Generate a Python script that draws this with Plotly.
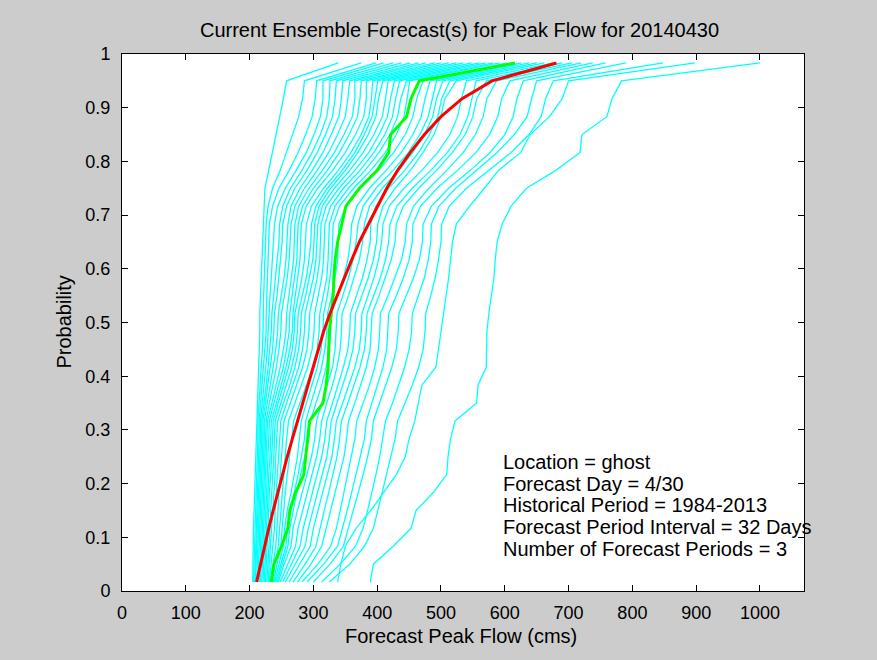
import plotly.graph_objects as go

# Probability levels (plotting positions) shared by all ensemble traces
probs = [0.0167, 0.05, 0.0833, 0.1167, 0.15, 0.1833, 0.2167, 0.25, 0.2833, 0.3167,
         0.35, 0.3833, 0.4167, 0.45, 0.4833, 0.5167, 0.55, 0.5833, 0.6167, 0.65,
         0.6833, 0.7167, 0.75, 0.7833, 0.8167, 0.85, 0.8833, 0.9167, 0.95, 0.9833]

# Ensemble member forecast peak flows (cms), one list per cyan trace
cyan_flows = [
    [205,205,206,206,207,208,209,210,211,211,212,213,214,215,216,216,217,218,219,220,221,222,224,230,236,242,248,253,258,339],
    [206,207,208,208,209,210,211,212,213,213,215,216,218,220,221,221,222,223,224,225,226,229,236,248,258,268,277,283,286,375],
    [208,209,210,211,212,213,213,214,215,215,217,220,222,224,226,226,227,228,229,230,231,236,246,262,276,288,298,303,305,398],
    [209,210,212,213,214,215,216,216,217,217,220,223,226,228,229,230,232,234,236,238,239,244,256,273,289,301,311,315,315,410],
    [211,212,214,215,216,217,218,218,219,219,223,226,229,232,234,235,238,241,244,246,247,252,264,282,298,311,321,325,326,425],
    [213,214,216,217,218,219,220,220,221,221,225,229,233,236,238,239,243,246,249,251,252,258,271,290,306,319,330,334,336,438],
    [215,216,218,219,220,221,222,222,223,223,228,233,237,241,244,245,250,254,257,259,260,265,279,298,315,328,340,344,346,452],
    [217,218,220,221,222,223,224,225,226,226,231,237,242,246,249,250,255,259,262,264,265,271,286,306,324,338,350,354,357,465],
    [219,220,222,223,224,225,226,227,228,228,235,242,248,253,257,258,262,266,269,270,271,277,293,314,333,348,361,365,365,476],
    [221,222,224,225,226,227,228,229,230,231,238,246,253,258,262,263,267,271,274,275,276,283,300,322,341,356,369,373,375,490],
    [223,224,226,227,228,229,230,232,233,234,242,250,257,263,267,268,272,276,279,280,281,289,307,330,350,366,379,383,383,500],
    [225,226,228,229,230,231,233,235,236,237,245,254,261,267,270,271,277,282,286,288,289,297,316,339,359,375,387,391,393,512],
    [227,229,231,232,233,235,237,238,239,240,249,258,266,272,275,276,283,289,293,296,297,304,322,345,365,380,392,396,401,524],
    [229,231,233,235,236,238,240,241,242,244,253,263,271,277,280,281,288,294,299,301,302,309,327,350,370,386,398,402,409,535],
    [231,234,237,239,240,242,244,246,247,249,258,268,277,283,286,287,294,300,304,306,307,314,333,357,378,395,408,413,417,548],
    [233,237,241,243,244,246,248,250,252,254,264,274,283,290,293,294,300,306,310,311,312,320,340,365,387,403,416,421,427,560],
    [235,240,245,247,249,251,253,256,258,261,271,282,291,298,301,302,308,313,316,317,318,327,347,373,395,412,424,429,435,570],
    [237,243,249,251,253,256,259,263,266,269,279,290,299,306,309,310,316,321,323,324,325,334,355,381,403,420,432,437,446,582],
    [239,246,253,255,259,265,270,275,278,281,289,298,306,312,315,316,322,326,329,330,331,341,363,390,413,430,442,447,451,592],
    [241,249,257,259,264,270,276,281,286,288,296,305,313,318,321,322,329,334,338,339,340,351,374,402,426,444,456,462,472,604],
    [243,251,260,263,268,274,280,287,293,295,304,313,320,325,327,328,338,347,354,358,360,368,388,414,438,456,469,475,483,615],
    [245,254,265,268,275,283,290,297,302,305,313,322,330,334,336,337,346,355,362,367,370,378,398,425,449,467,480,486,493,626],
    [248,260,272,276,283,291,298,305,310,313,321,330,337,342,344,345,355,364,372,377,380,388,408,434,456,474,487,493,503,638],
    [252,266,279,284,291,299,306,313,318,321,330,339,347,354,357,358,368,377,384,389,390,398,418,443,465,482,495,501,514,650],
    [256,272,287,292,299,307,314,321,325,328,337,346,355,362,365,366,376,386,394,399,401,409,428,452,472,489,500,506,524,662],
    [262,279,295,300,307,315,322,329,333,336,346,356,365,372,375,376,386,395,402,407,409,419,442,470,495,514,526,532,540,676],
    [268,287,304,310,317,324,331,337,341,344,354,364,373,380,383,384,395,405,413,418,420,431,455,484,510,530,542,548,555,690],
    [275,296,313,320,327,335,342,348,352,355,365,374,383,389,391,392,403,413,422,428,430,441,465,493,518,538,550,556,571,705],
    [282,307,327,336,342,348,354,360,365,368,378,388,396,402,404,405,417,428,438,444,446,457,481,509,535,554,566,572,587,720],
    [290,316,338,346,353,360,367,374,380,383,392,401,409,415,417,418,430,441,450,455,456,468,494,526,555,576,589,595,608,738],
    [300,326,347,355,363,371,378,385,391,394,404,414,423,430,433,434,446,457,466,471,472,485,512,546,577,600,613,619,629,758],
    [313,342,366,378,385,392,398,404,409,413,424,434,443,450,454,455,465,474,480,484,485,497,523,555,588,615,635,642,650,790],
    [325,357,380,394,401,408,415,422,428,432,444,455,465,472,475,476,484,491,496,500,501,513,540,575,610,638,657,664,676,848],
    [338,343,350,367,390,410,430,444,450,459,464,470,492,496,500,505,509,512,515,518,524,545,568,590,625,640,670,690,700,898],
    [389,394,425,453,461,488,509,511,515,522,556,558,571,571,572,575,579,583,585,588,596,610,634,680,718,721,760,768,783,1000],
]

# Highlighted traces
green_flows = [234,238,250,260,263,272,285,288,291,294,315,320,323,324,325,328,331,332,334,338,
               344,351,372,400,418,421,446,453,466,616]
red_flows = [211,217,223,230,237,244,251,259,267,275,283,291,299,307,316,326,337,348,360,372,
             386,400,415,432,452,474,500,533,580,681]

title_text = "Current Ensemble Forecast(s) for Peak Flow for 20140430"
x_label = "Forecast Peak Flow (cms)"
y_label = "Probability"
info_lines = ["Location = ghost", "Forecast Day = 4/30", "Historical Period = 1984-2013",
              "Forecast Period Interval = 32 Days", "Number of Forecast Periods = 3"]
x_ticks = [0, 100, 200, 300, 400, 500, 600, 700, 800, 900, 1000]
y_ticks = [0, 0.1, 0.2, 0.3, 0.4, 0.5, 0.6, 0.7, 0.8, 0.9, 1]
y_ticktext = ["0", "0.1", "0.2", "0.3", "0.4", "0.5", "0.6", "0.7", "0.8", "0.9", "1"]

FONT = "Liberation Sans, Arial, Helvetica, sans-serif"
TEXT_SIZE = 20
TICK_SIZE = 18

fig = go.Figure()
for flows in cyan_flows:
    fig.add_trace(go.Scatter(x=flows, y=probs, mode="lines",
                             line=dict(color="#00FFFF", width=1.3),
                             showlegend=False, hoverinfo="skip"))
fig.add_trace(go.Scatter(x=green_flows, y=probs, mode="lines",
                         line=dict(color="#00FF00", width=3), showlegend=False))
fig.add_trace(go.Scatter(x=red_flows, y=probs, mode="lines",
                         line=dict(color="#FF0000", width=3), showlegend=False))

axis_common = dict(showgrid=False, zeroline=False, showline=True, linecolor="black",
                   linewidth=1, mirror="ticks", ticks="inside", ticklen=6,
                   tickcolor="black", tickwidth=1,
                   tickfont=dict(family=FONT, size=TICK_SIZE, color="black"))

fig.update_xaxes(range=[0, 1069], tickvals=x_ticks,
                 ticktext=[str(v) for v in x_ticks], ticklabelstandoff=5, **axis_common)
fig.update_yaxes(range=[0, 1], tickvals=y_ticks, ticktext=y_ticktext,
                 ticklabelstandoff=7, **axis_common)

annotations = []
annotations.append(dict(text=x_label, xref="paper", yref="paper", x=0.497, y=-0.084,
                        xanchor="center", yanchor="middle", showarrow=False,
                        font=dict(family=FONT, size=TEXT_SIZE, color="black")))
annotations.append(dict(text=y_label, xref="paper", yref="paper", x=-0.0865, y=0.5,
                        xanchor="center", yanchor="middle", textangle=-90, showarrow=False,
                        font=dict(family=FONT, size=TEXT_SIZE, color="black")))
info_y = [0.241, 0.200, 0.160, 0.119, 0.079]
for txt, yy in zip(info_lines, info_y):
    annotations.append(dict(text=txt, xref="x", yref="y", x=594, y=yy,
                            xanchor="left", yanchor="middle", showarrow=False,
                            font=dict(family=FONT, size=TEXT_SIZE, color="black")))

fig.update_layout(
    width=877, height=660,
    margin=dict(l=122, r=73, t=54, b=69),
    paper_bgcolor="#CCCCCC", plot_bgcolor="white",
    title=dict(text=title_text, x=0.524, xanchor="center", y=1 - 30 / 660, yref="container",
               yanchor="middle", font=dict(family=FONT, size=TEXT_SIZE, color="black")),
    annotations=annotations,
)

fig.write_html("out.html", config={"displayModeBar": False},
               post_script="document.body.style.margin='0';"
                           "document.body.style.background='#CCCCCC';")
